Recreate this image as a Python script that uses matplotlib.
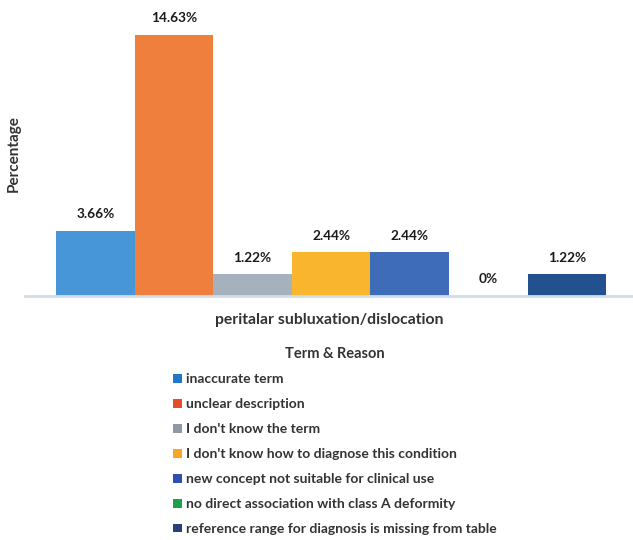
import numpy as np
import matplotlib.pyplot as plt
from matplotlib.patches import Patch

plt.rcParams['font.family'] = ['Lato', 'DejaVu Sans']

reasons = ["inaccurate term",
           "unclear description",
           "I don't know the term",
           "I don't know how to diagnose this condition",
           "new concept not suitable for clinical use",
           "no direct association with class A deformity",
           "reference range for diagnosis is missing from table"]
values = [3.66, 14.63, 1.22, 2.44, 2.44, 0, 1.22]
colors = ['#4696d8', '#ef7f3d', '#a5b1bd', '#f9b52e', '#3f6cb9', '#1aa34a', '#23508f']
key_colors = ['#1f78c8', '#e84a2a', '#8e9aa6', '#f9a625', '#2c4fb0', '#1f9f4a', '#2a3f80']
category = "peritalar subluxation/dislocation"

fig = plt.figure(figsize=(6.33, 5.4), dpi=100)
W, H = 633, 540
# axes box in pixels: left 25, right 633, baseline 296, top ~10
ax = fig.add_axes([25 / W, (540 - 296) / H, 608 / W, 285.5 / H])

x = np.arange(len(values))
bars = ax.bar(x, values, width=1.0, color=colors, edgecolor='none')
for xi, v in zip(x, values):
    ax.text(xi, v + 0.6, f"{v:g}%", ha='center', va='bottom',
            fontsize=9.8, fontweight='bold', color='#1a1a1a')

ax.set_xlim(-0.894, 6.84)
ax.set_ylim(0, 16)
for s in ['top', 'right', 'left']:
    ax.spines[s].set_visible(False)
ax.spines['bottom'].set_color('#d3dde8')
ax.spines['bottom'].set_linewidth(2)
ax.set_xticks([])
ax.set_yticks([])

fig.text(14 / W, 1 - 154 / H, "Percentage", rotation=90, ha='center', va='center',
         fontsize=11, fontweight='bold', color='#333333')
fig.text(329 / W, 1 - 320 / H, category, ha='center', va='center',
         fontsize=11.3, fontweight='bold', color='#333333')

handles = [Patch(facecolor=c, edgecolor='none') for c in key_colors]
leg = fig.legend(handles, reasons, loc='upper center', bbox_to_anchor=(335 / W, 1 - 334 / H),
                 frameon=False, title="Term & Reason", ncol=1,
                 prop={'size': 10, 'weight': 'bold'},
                 handlelength=0.6, handleheight=0.6, handletextpad=0.3,
                 labelspacing=0.93)
leg.get_title().set_fontsize(10.5)
leg.get_title().set_fontweight('bold')
leg.get_title().set_color('#333333')
for t in leg.get_texts():
    t.set_color('#333333')

fig.savefig('out.png', dpi=100)
